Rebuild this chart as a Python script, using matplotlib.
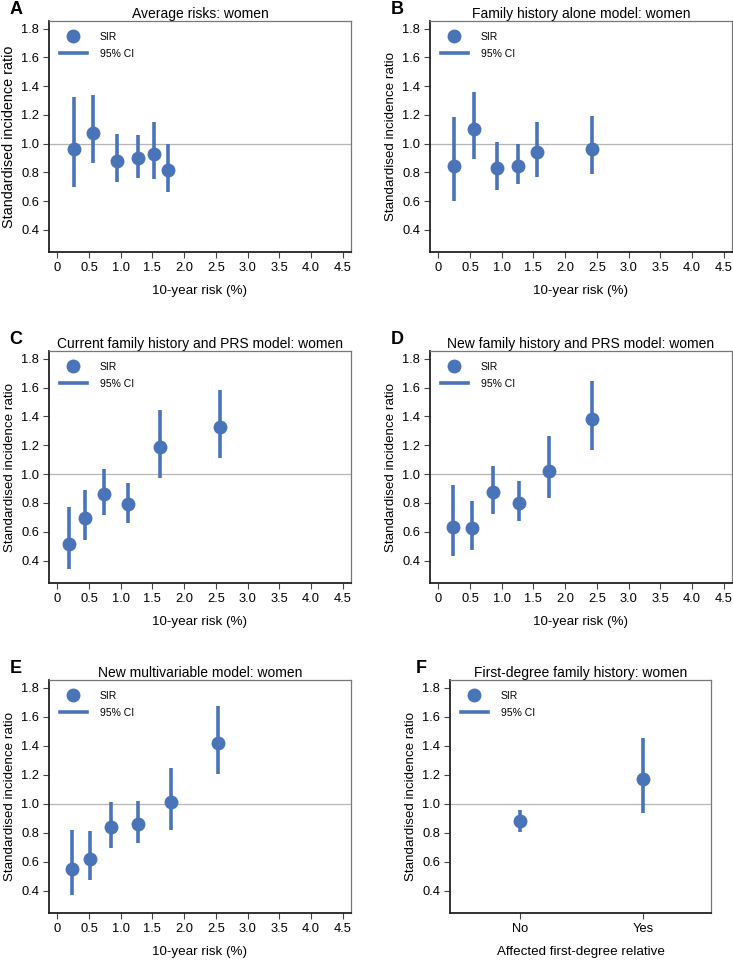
import numpy as np
import matplotlib.pyplot as plt
from matplotlib.lines import Line2D

plt.rcParams['font.family'] = ['Liberation Sans', 'DejaVu Sans']

# data: x position, SIR, lower and upper 95% CI
a_x = [0.26, 0.56, 0.94, 1.28, 1.53, 1.75]
a_sir = [0.96, 1.075, 0.88, 0.90, 0.93, 0.815]
a_lo = [0.70, 0.865, 0.73, 0.76, 0.755, 0.665]
a_hi = [1.325, 1.34, 1.065, 1.06, 1.147, 1.00]

b_x = [0.25, 0.56, 0.92, 1.26, 1.55, 2.43]
b_sir = [0.845, 1.10, 0.83, 0.845, 0.94, 0.965]
b_lo = [0.60, 0.89, 0.68, 0.72, 0.77, 0.785]
b_hi = [1.187, 1.36, 1.01, 0.997, 1.147, 1.194]

c_x = [0.18, 0.44, 0.73, 1.11, 1.62, 2.57]
c_sir = [0.515, 0.695, 0.86, 0.79, 1.185, 1.325]
c_lo = [0.342, 0.541, 0.715, 0.663, 0.974, 1.11]
c_hi = [0.775, 0.891, 1.034, 0.939, 1.442, 1.582]

d_x = [0.24, 0.53, 0.87, 1.27, 1.74, 2.42]
d_sir = [0.635, 0.623, 0.873, 0.802, 1.024, 1.383]
d_lo = [0.433, 0.472, 0.725, 0.672, 0.834, 1.17]
d_hi = [0.926, 0.815, 1.054, 0.954, 1.262, 1.642]

e_x = [0.23, 0.51, 0.85, 1.28, 1.79, 2.54]
e_sir = [0.548, 0.619, 0.838, 0.861, 1.011, 1.417]
e_lo = [0.370, 0.474, 0.691, 0.728, 0.82, 1.203]
e_hi = [0.82, 0.808, 1.014, 1.018, 1.246, 1.675]

f_cats = ['No', 'Yes']
f_sir = [0.878, 1.167]
f_lo = [0.804, 0.936]
f_hi = [0.958, 1.45]

risk_ticks = [0, 0.5, 1.0, 1.5, 2.0, 2.5, 3.0, 3.5, 4.0, 4.5]
risk_labels = ['0', '0.5', '1.0', '1.5', '2.0', '2.5', '3.0', '3.5', '4.0', '4.5']
y_ticks = [0.4, 0.6, 0.8, 1.0, 1.2, 1.4, 1.6, 1.8]

blue = '#4a74b8'
W, H = 733, 960
fig = plt.figure(figsize=(W / 100, H / 100), dpi=100)


def make_ax(x0, y0, x1, y1):
    # pixel box -> figure fraction
    return fig.add_axes([x0 / W, 1 - y1 / H, (x1 - x0) / W, (y1 - y0) / H])


def panel(ax, letter, title, x, sir, lo, hi, xlabel, ylab_size=9.6):
    sir = np.array(sir)
    err = [sir - np.array(lo), np.array(hi) - sir]
    ax.axhline(1.0, color='#b5b5b5', lw=0.9, zorder=1)
    ax.errorbar(x, sir, yerr=err, fmt='o', color=blue, ms=9, elinewidth=2.6,
                capsize=0, zorder=3)
    ax.set_ylim(0.245, 1.853)
    ax.set_yticks(y_ticks)
    ax.set_yticklabels(['%.1f' % v for v in y_ticks])
    ax.set_ylabel('Standardised incidence ratio', fontsize=ylab_size, labelpad=4)
    ax.set_xlabel(xlabel, fontsize=9.6, labelpad=8)
    ax.set_title(title, fontsize=10, pad=2.5)
    ax.text(-0.13, 1.015, letter, transform=ax.transAxes, fontsize=13,
            fontweight='bold', va='bottom', ha='left')
    ax.tick_params(direction='out', length=4, width=0.8, color='#444444',
                   labelsize=9.3, pad=3)
    for s in ['left', 'bottom']:
        ax.spines[s].set_color('#222222')
        ax.spines[s].set_linewidth(1.3)
    for s in ['top', 'right']:
        ax.spines[s].set_color('#777777')
        ax.spines[s].set_linewidth(0.9)
    handles = [Line2D([], [], marker='o', ls='none', color=blue, ms=9),
               Line2D([], [], color=blue, lw=2.6)]
    ax.legend(handles, ['SIR', '95% CI'], loc='upper left', frameon=False,
              fontsize=7.5, handlelength=2.6, handletextpad=1.2,
              labelspacing=0.65, borderaxespad=0.65, bbox_to_anchor=(0.0, 1.0))


def risk_panel(ax, letter, title, x, sir, lo, hi, ylab_size=9.6):
    panel(ax, letter, title, x, sir, lo, hi, '10-year risk (%)', ylab_size)
    ax.set_xlim(-0.13, 4.63)
    ax.set_xticks(risk_ticks)
    ax.set_xticklabels(risk_labels)


axA = make_ax(49, 21, 351, 252)
risk_panel(axA, 'A', 'Average risks: women', a_x, a_sir, a_lo, a_hi, ylab_size=10.4)
axB = make_ax(430, 21, 732, 252)
risk_panel(axB, 'B', 'Family history alone model: women', b_x, b_sir, b_lo, b_hi)
axC = make_ax(49, 351, 351, 583)
risk_panel(axC, 'C', 'Current family history and PRS model: women', c_x, c_sir, c_lo, c_hi)
axD = make_ax(430, 351, 732, 583)
risk_panel(axD, 'D', 'New family history and PRS model: women', d_x, d_sir, d_lo, d_hi)
axE = make_ax(49, 680, 351, 913)
risk_panel(axE, 'E', 'New multivariable model: women', e_x, e_sir, e_lo, e_hi)

axF = make_ax(450, 680, 711, 913)
f_pos = np.arange(1, len(f_cats) + 1)
panel(axF, 'F', 'First-degree family history: women', f_pos, f_sir, f_lo, f_hi,
      'Affected first-degree relative')
axF.set_xlim(0.43, 2.55)
axF.set_xticks(f_pos)
axF.set_xticklabels(f_cats)

fig.savefig('out.png', dpi=100)
